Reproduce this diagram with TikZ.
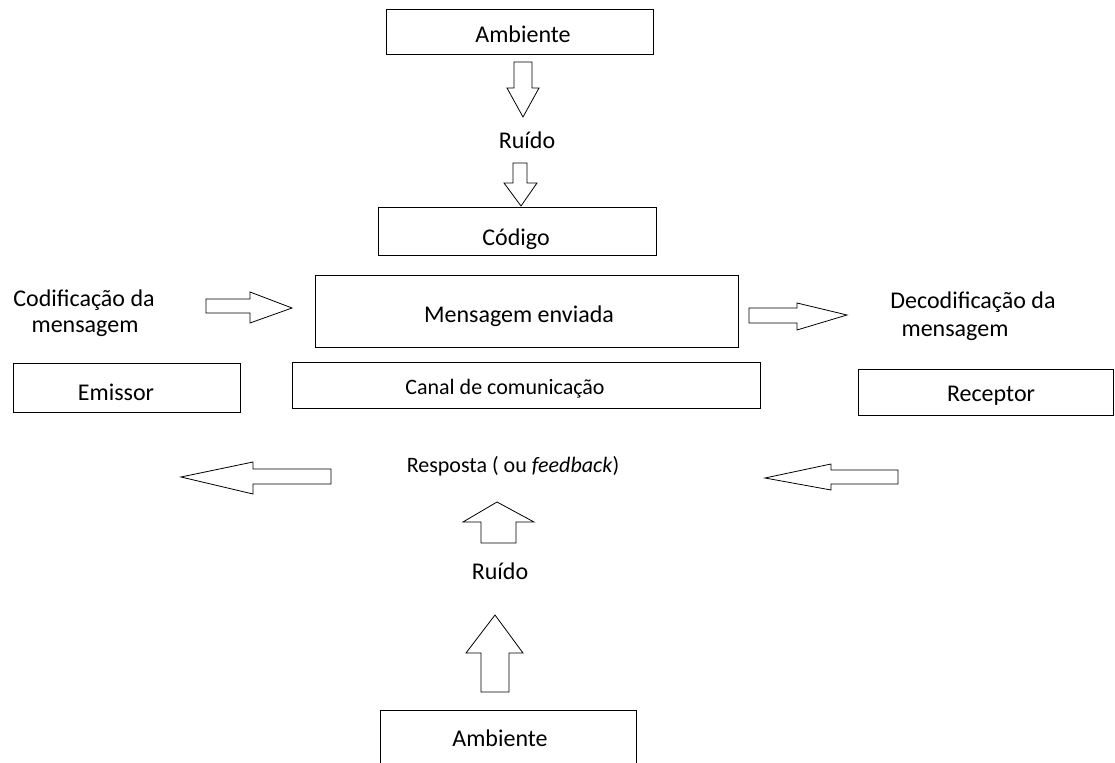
\documentclass[tikz,border=0pt]{standalone}
\usepackage{fontspec}
\setmainfont{Carlito}
\begin{document}
\begin{tikzpicture}[x=0.75pt,y=-0.75pt,
  box/.style={draw,line width=0.75pt,inner sep=0pt},
  txt/.style={font=\fontsize{18}{21}\selectfont,inner sep=0pt,anchor=base},
  stxt/.style={font=\fontsize{16.5}{19}\selectfont,inner sep=0pt,anchor=base},
  blk/.style={draw,line width=0.6pt,line join=miter,fill=white}]
\useasboundingbox (0,0) rectangle (1115,763);
\clip (0,0) rectangle (1115,763);
% boxes
\node[box,minimum width=200.25pt,minimum height=33.75pt] (amb1) at (519.5,32.5) {};
\node[box,minimum width=208.5pt,minimum height=36pt] (codigo) at (517,232) {};
\node[box,minimum width=317.25pt,minimum height=53.25pt] (msg) at (526.5,311.5) {};
\node[box,minimum width=170.25pt,minimum height=36.75pt] (emissor) at (126.5,387.5) {};
\node[box,minimum width=351pt,minimum height=34.5pt] (canal) at (526,385) {};
\node[box,minimum width=191.25pt,minimum height=34.5pt] (receptor) at (985.5,392) {};
\node[box,minimum width=192pt,minimum height=52.5pt] (amb2) at (508,745) {};
% texts
\node[txt] (t-amb1) at (523,43) {Ambiente};
\node[txt] (t-ruido1) at (527,149) {Ruído};
\node[txt] (t-codigo) at (516,246) {Código};
\node[txt] (t-msg) at (519,322) {Mensagem enviada};
\node[stxt] (t-canal) at (505,394) {Canal de comunicação};
\node[txt] (t-emissor) at (116,400) {Emissor};
\node[txt] (t-receptor) at (991,401) {Receptor};
\node[txt] (t-cod1) at (84,306) {Codificação da};
\node[txt] (t-cod2) at (85,333) {mensagem};
\node[txt] (t-dec1) at (973,309) {Decodificação da};
\node[txt] (t-dec2) at (955,337) {mensagem};
\node[stxt] (t-resp) at (513,472) {Resposta ( ou \textit{feedback})};
\node[txt] (t-ruido2) at (500,579) {Ruído};
\node[txt] (t-amb2) at (500,746) {Ambiente};
% block arrows
\draw[blk] (514,62)--(532,62)--(532,88)--(539,88)--(523,117)--(507,88)--(514,88)--cycle;
\draw[blk] (513,163)--(527,163)--(527,183)--(537,183)--(521,206)--(504,183)--(513,183)--cycle;
\draw[blk] (206,299)--(250,299)--(250,292)--(292,308)--(250,323)--(250,313)--(206,313)--cycle;
\draw[blk] (749,308)--(797,308)--(797,303)--(847,315)--(797,330)--(797,323)--(749,323)--cycle;
\draw[blk] (331,469)--(253,469)--(253,462)--(181,477)--(253,494)--(253,484)--(331,484)--cycle;
\draw[blk] (898,470)--(831,470)--(831,464)--(765,478)--(831,490)--(831,484)--(898,484)--cycle;
\draw[blk] (481,543)--(481,522)--(463,522)--(497,502)--(534,522)--(516,522)--(516,543)--cycle;
\draw[blk] (481,692)--(481,653)--(466,653)--(495,615)--(523,653)--(509,653)--(509,692)--cycle;
\end{tikzpicture}
\end{document}
